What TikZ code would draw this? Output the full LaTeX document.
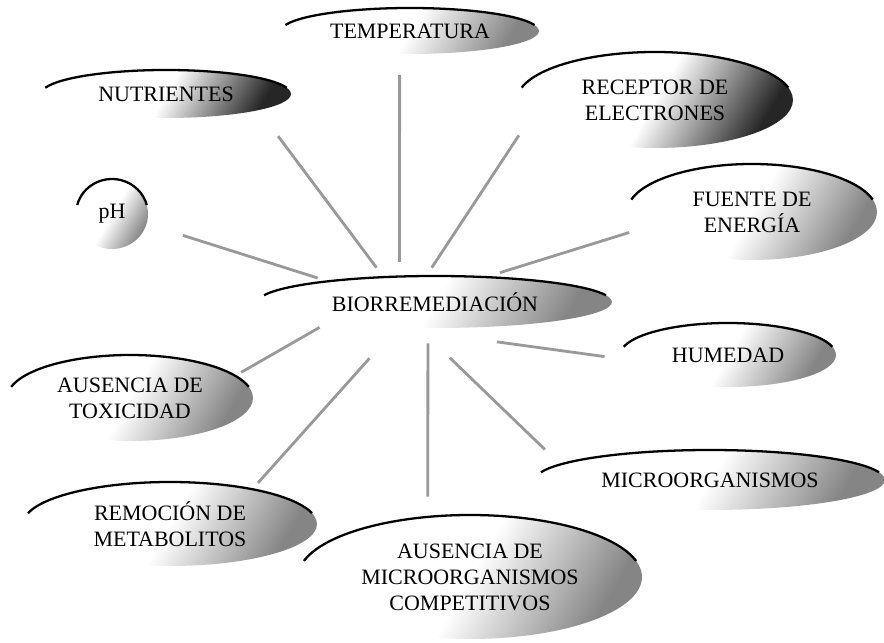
\documentclass[tikz,border=0pt]{standalone}
\usepackage{fontspec}
\setmainfont{Liberation Serif}
\usetikzlibrary{shapes.geometric}

\begin{document}
\begin{tikzpicture}[
  x=0.02cm,
  y=0.02cm,
  font=\fontsize{12.5}{14.8}\selectfont,
  blob/.style={ellipse, inner sep=0pt, align=center, top color=white, bottom color=black!48, middle color=white, shading angle=60},
  darkblob/.style={blob, bottom color=black!85, middle color=white, shading angle=60},
  rim/.style={line width=1.3pt, draw=black},
  link/.style={line width=1.6pt, draw=black!40},
]
\useasboundingbox (0,0) rectangle (884,642);

\node[blob, minimum width=5.16cm, minimum height=0.92cm] (temp) at (410,611) {TEMPERATURA};
\node[darkblob, minimum width=5cm, minimum height=0.96cm] (nutr) at (166,548) {NUTRIENTES};
\node[blob, minimum width=1.44cm, minimum height=1.4cm] (ph) at (112,428) {pH};
\node[darkblob, minimum width=5.52cm, minimum height=1.92cm] (rec) at (655,542) {RECEPTOR DE\\ELECTRONES};
\node[blob, minimum width=5cm, minimum height=1.92cm] (fuen) at (752,430) {FUENTE DE\\ENERGÍA};
\node[blob, minimum width=7.08cm, minimum height=1.04cm] (bio) at (435,340) {BIORREMEDIACIÓN};
\node[blob, minimum width=4.32cm, minimum height=1.28cm] (hum) at (728,287) {HUMEDAD};
\node[blob, minimum width=7cm, minimum height=1.2cm] (micro) at (710,162) {MICROORGANISMOS};
\node[blob, minimum width=6.88cm, minimum height=2.48cm] (comp) at (470,65) {AUSENCIA DE\\MICROORGANISMOS\\COMPETITIVOS};
\node[blob, minimum width=4.92cm, minimum height=1.72cm] (tox) at (130,244) {AUSENCIA DE\\TOXICIDAD};
\node[blob, minimum width=5.88cm, minimum height=1.68cm] (rem) at (170,118) {REMOCIÓN DE\\METABOLITOS};

% black rims along the top of each ellipse
\foreach \n/\a/\b in {temp/2.58/0.46, nutr/2.5/0.48, ph/0.72/0.7, rec/2.76/0.96, fuen/2.5/0.96, bio/3.54/0.52, hum/2.16/0.64, micro/3.5/0.6, comp/3.44/1.24, tox/2.46/0.86, rem/2.94/0.84}
  \draw[rim] (\n.center) ++(165:\a cm and \b cm) arc[start angle=165, end angle=15, x radius=\a cm, y radius=\b cm];

% spokes
\draw[link, shorten <=8.2pt, shorten >=11.9pt] (bio.144) -- (temp.246);
\draw[link, shorten <=6.5pt, shorten >=18.3pt] (bio.154) -- (nutr.350);
\draw[link, shorten <=5.8pt, shorten >=21.5pt] (bio.169) -- (ph.344);
\draw[link, shorten <=5.4pt, shorten >=10.5pt] (bio.108) -- (rec.189);
\draw[link, shorten <=7.9pt, shorten >=4.1pt] (bio.26) -- (fuen.189);
\draw[link, shorten <=60pt, shorten >=9.1pt] (bio.211) -- (hum.182);
\draw[link, shorten <=24.2pt, shorten >=12.1pt] (bio.239) -- (micro.174);
\draw[link, shorten <=8.5pt, shorten >=11.3pt] (bio.255) -- (comp.125);
\draw[link, shorten <=23.4pt, shorten >=4.6pt] (bio.214) -- (rem.23);
\draw[link, shorten <=5.1pt, shorten >=3.7pt] (bio.191) -- (tox.12);

\end{tikzpicture}
\end{document}
